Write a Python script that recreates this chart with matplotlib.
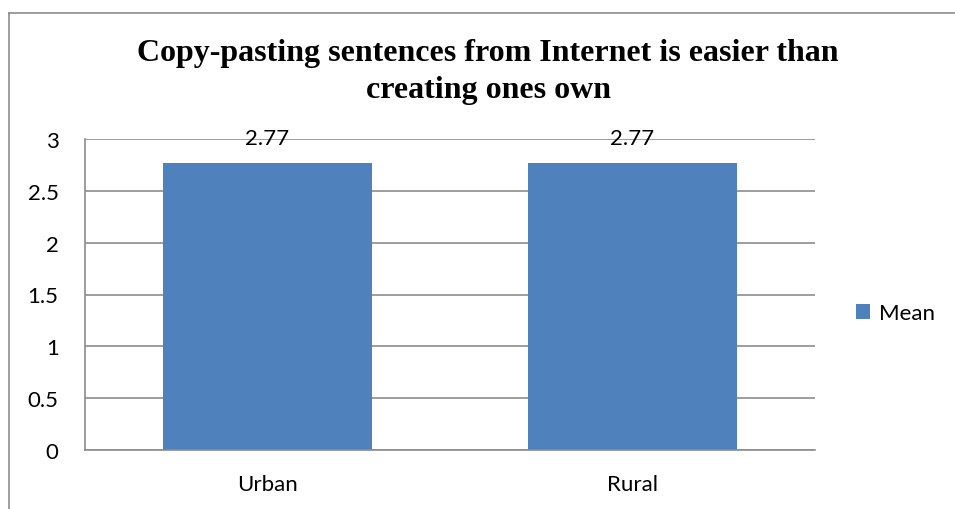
import matplotlib.pyplot as plt
from matplotlib.lines import Line2D

categories = ["Urban", "Rural"]
mean_values = [2.77, 2.77]
y_ticks = [0, 0.5, 1, 1.5, 2, 2.5, 3]
y_tick_labels = ["0", "0.5", "1", "1.5", "2", "2.5", "3"]
title = "Copy-pasting sentences from Internet is easier than\ncreating ones own"

W, H = 955, 510
fig = plt.figure(figsize=(W / 100, H / 100), dpi=100)

# plot area in pixels: left 85, right 815, top (y=3) 140, bottom (y=0) 451
ax = fig.add_axes([85 / W, 1 - 451 / H, (815 - 85) / W, (451 - 140) / H])

x = range(len(categories))
bars = ax.bar(x, mean_values, width=0.573, color="#4f81bd", label="Mean", zorder=2)

for b, v in zip(bars, mean_values):
    ax.annotate(f"{v:.2f}", (b.get_x() + b.get_width() / 2, v), xytext=(0, 18),
                textcoords="offset points", ha="center", va="center",
                fontsize=16, family="Lato", zorder=3)

ax.set_xlim(-0.5, 1.5)
ax.set_ylim(0, 3)
ax.set_yticks(y_ticks)
ax.set_yticklabels(y_tick_labels, family="Lato", fontsize=16)
ax.set_xticks(list(x))
ax.set_xticklabels(categories, family="Lato", fontsize=16)
ax.tick_params(axis="y", length=0, pad=19)
ax.tick_params(axis="x", length=0, pad=17)
ax.grid(axis="y", color="#8c8c8c", linewidth=1.2, zorder=1)
for s in ["top", "right"]:
    ax.spines[s].set_visible(False)
ax.spines["left"].set_color("#8c8c8c")
ax.spines["bottom"].set_color("#8c8c8c")
ax.spines["left"].set_linewidth(1.2)
ax.spines["bottom"].set_linewidth(1.2)

fig.text(488 / W, 1 - 72 / H, title, ha="center", va="center", family="Liberation Serif",
         fontweight="bold", fontsize=23, linespacing=1.38)

ax.legend(loc="center left", bbox_to_anchor=(856 / W, 1 - 314 / H), bbox_transform=fig.transFigure,
          frameon=False, prop={"family": "Lato", "size": 16}, handlelength=0.65, handleheight=0.65,
          handletextpad=0.4, borderaxespad=0, borderpad=0)

# outer chart border (only left and top fall inside the image)
bx, by = 8.5 / W, 1 - 13.5 / H
fig.add_artist(Line2D([bx, bx], [0, by], transform=fig.transFigure, color="#8c8c8c", linewidth=1.2))
fig.add_artist(Line2D([bx, 1], [by, by], transform=fig.transFigure, color="#8c8c8c", linewidth=1.2))

fig.savefig("out.png", dpi=100)
